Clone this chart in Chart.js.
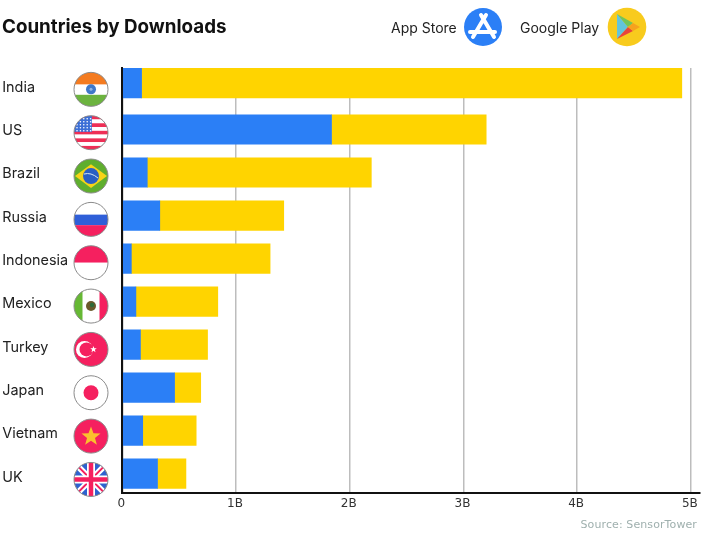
<!DOCTYPE html>
<html>
<head>
<meta charset="utf-8">
<title>Countries by Downloads</title>
<script src="https://cdn.jsdelivr.net/npm/chart.js@4"></script>
<style>
	html, body { margin: 0; padding: 0; background: #fff; }
	#wrap { position: relative; width: 725px; height: 540px; overflow: hidden; }
	#chart { position: absolute; left: 0; top: 0; }
	.txt { position: absolute; white-space: nowrap; line-height: 1; }
	#title { left: 2px; top: 15px; font: 700 18.8px Inter, sans-serif; color: #111; }
	.leg { top: 19px; font: 400 14px Inter, sans-serif; color: #222; }
	#source { right: 28px; top: 518px; font: 400 11px "DejaVu Sans", sans-serif; color: #9fb0ae; letter-spacing: 0.1px; }
</style>
</head>
<body>
<div id="wrap">
	<canvas id="chart" width="725" height="540"></canvas>
	<div class="txt" id="title">Countries by Downloads</div>
	<div class="txt leg" style="left:391px">App Store</div>
	<div class="txt leg" style="left:520px">Google Play</div>
	<div class="txt" id="source">Source: SensorTower</div>
</div>
<script>
const countries = ["India", "US", "Brazil", "Russia", "Indonesia", "Mexico", "Turkey", "Japan", "Vietnam", "UK"];
const appStore = [0.17, 1.84, 0.22, 0.33, 0.08, 0.12, 0.16, 0.46, 0.18, 0.31];
const googlePlay = [4.75, 1.36, 1.97, 1.09, 1.22, 0.72, 0.59, 0.23, 0.47, 0.25];
const xTicks = ["0", "1B", "2B", "3B", "4B", "5B"];

const BLUE = "#2b7ff6";
const YELLOW = "#ffd400";
const RED = "#f5205f";

// the first bar sits a little higher than the regular row spacing, as in the original
const rowOf = (i) => (i === 0 ? -0.08 : i);
// labels and flags are spaced slightly wider than the bars
const labelRow = (i) => 0.02 + i * 1.0076;

const toPoints = (values) => values.map((v, i) => ({ x: v, y: rowOf(i) }));

function band(c, r, color, from, to) {
	c.fillStyle = color;
	c.fillRect(-r, -r + 2 * r * from, 2 * r, 2 * r * (to - from));
}

function star(c, x, y, r, color) {
	c.fillStyle = color;
	c.beginPath();
	for (let i = 0; i < 10; i++) {
		const rr = i % 2 ? r * 0.42 : r;
		const a = -Math.PI / 2 + i * Math.PI / 5;
		c.lineTo(x + Math.cos(a) * rr, y + Math.sin(a) * rr);
	}
	c.closePath();
	c.fill();
}

function dot(c, x, y, r, color) {
	c.fillStyle = color;
	c.beginPath();
	c.arc(x, y, r, 0, Math.PI * 2);
	c.fill();
}

const flags = {
	India(c, r) {
		band(c, r, "#f47b20", 0, 0.36);
		band(c, r, "#ffffff", 0.36, 0.66);
		band(c, r, "#6cb33f", 0.66, 1);
		dot(c, 0, 0, 5, "#3f78c9");
		dot(c, 0, 0, 1.5, "#8fb4e6");
	},
	US(c, r) {
		for (let i = 0; i < 9; i++) {
			band(c, r, i % 2 ? "#ffffff" : "#ee2f56", i / 9, (i + 1) / 9);
		}
		c.fillStyle = "#3c6fd6";
		c.fillRect(-r, -r, r * 1.05, r * 0.95);
		for (let i = 0; i < 5; i++) {
			for (let j = 0; j < 5; j++) {
				dot(c, -r + 3 + j * 3.4, -r + 3 + i * 3, 0.8, "#ffffff");
			}
		}
	},
	Brazil(c, r) {
		band(c, r, "#5fae2e", 0, 1);
		c.fillStyle = "#f7d417";
		c.beginPath();
		c.moveTo(-r + 1, 0);
		c.lineTo(0, -r * 0.7);
		c.lineTo(r - 1, 0);
		c.lineTo(0, r * 0.7);
		c.closePath();
		c.fill();
		dot(c, 0, 0, 8, "#2a5fc4");
		c.strokeStyle = "#d8e6f5";
		c.lineWidth = 1;
		c.beginPath();
		c.moveTo(-7, -2);
		c.quadraticCurveTo(0, -4, 7, 2);
		c.stroke();
	},
	Russia(c, r) {
		band(c, r, "#ffffff", 0, 0.36);
		band(c, r, "#2f5fd8", 0.36, 0.67);
		band(c, r, RED, 0.67, 1);
	},
	Indonesia(c, r) {
		band(c, r, RED, 0, 0.5);
		band(c, r, "#ffffff", 0.5, 1);
	},
	Mexico(c, r) {
		band(c, r, "#ffffff", 0, 1);
		c.fillStyle = "#66b834";
		c.fillRect(-r, -r, r * 0.5, 2 * r);
		c.fillStyle = RED;
		c.fillRect(r * 0.5, -r, r * 0.5, 2 * r);
		dot(c, 0, 0, 5, "#6b5a2c");
		dot(c, 1, -1, 2.2, "#2f6b3a");
	},
	Turkey(c, r) {
		band(c, r, RED, 0, 1);
		dot(c, -6.5, 0, 8.5, "#ffffff");
		dot(c, -4.5, 0, 7, RED);
		star(c, 2.5, 0, 3.4, "#ffffff");
	},
	Japan(c, r) {
		band(c, r, "#ffffff", 0, 1);
		dot(c, 0, 0, 7.5, RED);
	},
	Vietnam(c, r) {
		band(c, r, RED, 0, 1);
		star(c, 0, 0.5, 10, "#fbc02d");
	},
	UK(c, r) {
		band(c, r, "#2f62cf", 0, 1);
		c.lineCap = "butt";
		c.strokeStyle = "#ffffff";
		c.lineWidth = 6;
		c.beginPath();
		c.moveTo(-r, -r);
		c.lineTo(r, r);
		c.moveTo(r, -r);
		c.lineTo(-r, r);
		c.stroke();
		c.strokeStyle = RED;
		c.lineWidth = 2;
		c.stroke();
		c.strokeStyle = "#ffffff";
		c.lineWidth = 8;
		c.beginPath();
		c.moveTo(0, -r);
		c.lineTo(0, r);
		c.moveTo(-r, 0);
		c.lineTo(r, 0);
		c.stroke();
		c.strokeStyle = RED;
		c.lineWidth = 4.5;
		c.stroke();
	},
};

function drawBadge(c, x, y, r, paint) {
	c.save();
	c.translate(x, y);
	c.save();
	c.beginPath();
	c.arc(0, 0, r, 0, Math.PI * 2);
	c.clip();
	paint(c, r);
	c.restore();
	c.strokeStyle = "#8a8a8a";
	c.lineWidth = 1;
	c.beginPath();
	c.arc(0, 0, r, 0, Math.PI * 2);
	c.stroke();
	c.restore();
}

function appStoreIcon(c) {
	dot(c, 0, 0, 19, BLUE);
	c.strokeStyle = "#ffffff";
	c.lineCap = "round";
	c.lineWidth = 4;
	c.beginPath();
	c.moveTo(-2, -12);
	c.lineTo(11, 10);
	c.moveTo(3, -12);
	c.lineTo(-10, 10);
	c.moveTo(-13, 5);
	c.lineTo(12, 5);
	c.stroke();
}

function googlePlayIcon(c) {
	dot(c, 0, 0, 19.3, "#f8cb1d");
	const wedge = (color, pts) => {
		c.fillStyle = color;
		c.beginPath();
		pts.forEach((p) => c.lineTo(p[0], p[1]));
		c.closePath();
		c.fill();
	};
	wedge("#62c4dc", [[-10, -13], [-10, 12], [1, 0]]);
	wedge("#72c45a", [[-10, -13], [6, -4], [1, 0]]);
	wedge("#e8453c", [[-10, 12], [6, 4], [1, 0]]);
	wedge("#f6a21e", [[6, -4], [13, 0], [6, 4], [1, 0]]);
}

const decorations = {
	id: "decorations",
	afterDraw(chart) {
		const c = chart.ctx;
		const yScale = chart.scales.y;
		countries.forEach((name, i) => {
			drawBadge(c, 91, yScale.getPixelForValue(labelRow(i)) + 2, 17, flags[name]);
		});
		c.save();
		c.translate(483, 27);
		appStoreIcon(c);
		c.restore();
		c.save();
		c.translate(627, 27);
		googlePlayIcon(c);
		c.restore();
	},
};

new Chart(document.getElementById("chart"), {
	type: "bar",
	data: {
		labels: countries,
		datasets: [
			{ label: "App Store", data: toPoints(appStore), backgroundColor: BLUE },
			{ label: "Google Play", data: toPoints(googlePlay), backgroundColor: YELLOW },
		],
	},
	options: {
		indexAxis: "y",
		responsive: false,
		animation: false,
		devicePixelRatio: 1,
		layout: { padding: { left: 2.25, top: 68, right: 25, bottom: 0 } },
		datasets: { bar: { barThickness: 29.5 } },
		scales: {
			x: {
				type: "linear",
				stacked: true,
				min: 0,
				max: 5.08,
				grid: { color: "#bdbdbd", lineWidth: 1.5, drawTicks: false },
				border: { color: "#111", width: 2 },
				afterFit: (scale) => { scale.height = 47; },
				ticks: {
					stepSize: 1,
					includeBounds: false,
					maxRotation: 0,
					padding: 4,
					labelOffset: -1,
					color: "#333",
					font: { family: "DejaVu Sans", size: 12 },
					callback: (v) => xTicks[v],
				},
			},
			y: {
				type: "linear",
				reverse: true,
				offset: false,
				stacked: true,
				min: -0.43,
				max: 9.45,
				grid: { display: false, drawTicks: false, offset: false },
				border: { color: "#111", width: 2, z: 1 },
				afterFit: (scale) => { scale.width = 120; },
				afterBuildTicks: (scale) => {
					scale.ticks = countries.map((_, i) => ({ value: labelRow(i) }));
				},
				ticks: {
					crossAlign: "far",
					autoSkip: false,
					color: "#222",
					font: { family: "Inter", size: 14.4 },
					callback: (v, i) => countries[i],
				},
			},
		},
		plugins: {
			legend: { display: false },
			tooltip: { enabled: false },
		},
	},
	plugins: [decorations],
});
</script>
</body>
</html>
